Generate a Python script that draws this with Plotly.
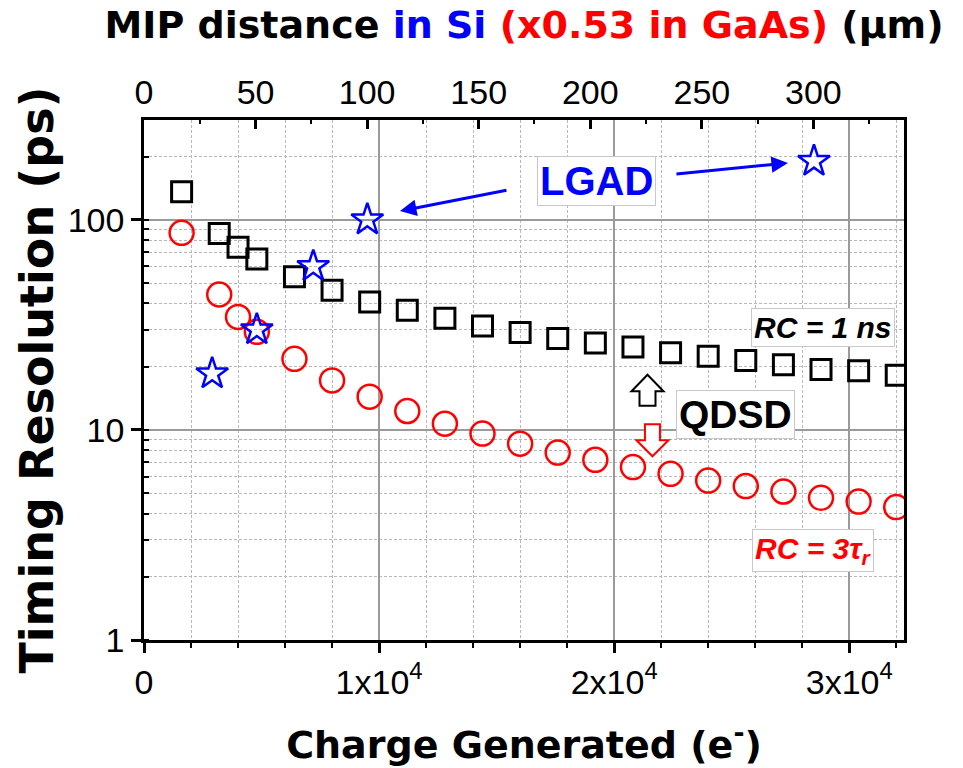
import plotly.graph_objects as go

# --- data -------------------------------------------------------------
# QDSD timing resolution vs generated charge
charge_qdsd = [1600, 3200, 4000, 4800, 6400, 8000, 9600, 11200, 12800, 14400,
               16000, 17600, 19200, 20800, 22400, 24000, 25600, 27200, 28800,
               30400, 32000]
res_rc_1ns = [136, 86, 74, 65, 53.5, 46.2, 40.6, 37.1, 34.0, 31.2,
              29.1, 27.2, 25.9, 24.8, 23.3, 22.4, 21.4, 20.4, 19.4,
              19.1, 18.2]
res_rc_3tau = [86.7, 44.1, 34.5, 29.3, 21.8, 17.2, 14.4, 12.3, 10.7, 9.6,
               8.6, 7.8, 7.2, 6.65, 6.18, 5.74, 5.40, 5.09, 4.75,
               4.56, 4.29]

# LGAD reference points
charge_lgad = [2900, 4800, 7200, 9500, 28500]
res_lgad = [18.5, 30, 60, 100, 190]

# axis ticks
x_tickvals = [0, 10000, 20000, 30000]
x_ticktext = ["0", "1x10<sup>4</sup>", "2x10<sup>4</sup>", "3x10<sup>4</sup>"]
y_tickvals = [1, 10, 100]
y_ticktext = ["1", "10", "100"]
um_tickvals = [0, 50, 100, 150, 200, 250, 300]
um_ticktext = ["0", "50", "100", "150", "200", "250", "300"]

# ranges (bottom axis in electrons, top axis in micrometres of Si)
x_range = [0, 32330]
um_range = [0, 340.6]
y_range_log = [0, 2.475]

FONT = "Liberation Sans, Arial, sans-serif"
TITLE_FONT = "DejaVu Sans, Liberation Sans, sans-serif"
BLUE = "#0000ff"
RED = "#ff0000"

fig = go.Figure()

fig.add_trace(go.Scatter(
    x=charge_qdsd, y=res_rc_1ns, mode="markers", name="RC = 1 ns",
    marker=dict(symbol="square-open", size=20, color="black",
                line=dict(width=3, color="black")),
    cliponaxis=True))
fig.add_trace(go.Scatter(
    x=charge_qdsd, y=res_rc_3tau, mode="markers", name="RC = 3 tau_r",
    marker=dict(symbol="circle-open", size=24, color=RED,
                line=dict(width=2.5, color=RED)),
    cliponaxis=True))
fig.add_trace(go.Scatter(
    x=charge_lgad, y=res_lgad, mode="markers", name="LGAD",
    marker=dict(symbol="star-open", size=24, color=BLUE,
                line=dict(width=2.5, color=BLUE)),
    cliponaxis=True))
# empty trace so the top (distance) axis gets drawn
fig.add_trace(go.Scatter(x=[], y=[], xaxis="x2", yaxis="y",
                         mode="markers", showlegend=False, hoverinfo="skip"))

major_grid = "#9a9a9a"
minor_grid = "#b8b8b8"

fig.update_layout(
    width=963, height=768,
    margin=dict(l=144, r=59, t=120, b=128),
    paper_bgcolor="white", plot_bgcolor="white",
    showlegend=False,
    font=dict(family=FONT, color="black"),
    xaxis=dict(
        range=x_range, tickvals=x_tickvals, ticktext=x_ticktext,
        automargin=False,
        ticks="outside", ticklen=10, tickwidth=2.5, tickcolor="black",
        tickfont=dict(size=34, family=FONT),
        showline=True, linewidth=2.5, linecolor="black", mirror=False,
        showgrid=True, gridcolor=major_grid, gridwidth=1.5, zeroline=False,
        minor=dict(dtick=2000, tick0=0, ticks="outside", ticklen=5,
                   tickwidth=2, tickcolor="black", showgrid=True,
                   gridcolor=minor_grid, gridwidth=1, griddash="3px,2px"),
        title=dict(text="<b>Charge Generated (e<sup>-</sup>)</b>",
                   font=dict(size=38, family=TITLE_FONT), standoff=32),
    ),
    xaxis2=dict(
        overlaying="x", side="top", anchor="y", range=um_range,
        automargin=False,
        tickvals=um_tickvals, ticktext=um_ticktext,
        ticks="inside", ticklen=9, tickwidth=2.5, tickcolor="black",
        tickfont=dict(size=34, family=FONT),
        showline=True, linewidth=2.5, linecolor="black",
        showgrid=False, zeroline=False,
        minor=dict(dtick=25, tick0=0, ticks="inside", ticklen=4,
                   tickwidth=2, tickcolor="black", showgrid=False),
        title=dict(
            text="<b>MIP distance <span style='color:#0000ff'>in Si</span> "
                 "<span style='color:#ff0000'>(x0.53 in GaAs)</span> (µm)</b>",
            font=dict(size=38, family=TITLE_FONT), standoff=23),
    ),
    yaxis=dict(
        type="log", range=y_range_log, tickvals=y_tickvals,
        ticktext=y_ticktext, automargin=False,
        ticks="outside", ticklen=10, tickwidth=2.5, tickcolor="black",
        tickfont=dict(size=34, family=FONT),
        showline=True, linewidth=2.5, linecolor="black", mirror=True,
        showgrid=True, gridcolor=major_grid, gridwidth=1.5, zeroline=False,
        minor=dict(dtick="D1", ticks="inside", ticklen=5, tickwidth=2,
                   tickcolor="black", showgrid=True, gridcolor=minor_grid,
                   gridwidth=1, griddash="3px,2px"),
        title=dict(text="<b>Timing Resolution (ps)</b>",
                   font=dict(size=46, family=TITLE_FONT), standoff=0),
    ),
)

# --- text labels ------------------------------------------------------
box = dict(bgcolor="white", bordercolor="#c8c8c8", borderwidth=1,
           borderpad=2, showarrow=False, xref="x", yref="y")
fig.add_annotation(x=19270, y=2.1845, text="<b>LGAD</b>",
                   font=dict(size=40, color=BLUE, family=FONT), **box)
fig.add_annotation(x=28884, y=1.4886, text="<b><i>RC = 1 ns</i></b>",
                   font=dict(size=30, color="black", family=FONT), **box)
fig.add_annotation(x=25183, y=1.074, text="<b>QDSD</b>",
                   font=dict(size=39, color="black", family=FONT), **box)
fig.add_annotation(x=28459, y=0.426, text="<b><i>RC = 3τ<sub>r</sub></i></b>",
                   font=dict(size=30, color=RED, family=FONT), **box)

# --- arrows from the LGAD label to the LGAD points -------------------
arrow = dict(text="", showarrow=True, arrowhead=2, arrowsize=1.1,
             arrowwidth=3, arrowcolor=BLUE, xref="x", yref="y",
             axref="x", ayref="y", standoff=0, startstandoff=0)
fig.add_annotation(x=10889, y=2.0415, ax=15483, ay=2.1416, **arrow)
fig.add_annotation(x=27393, y=2.2703, ax=22586, ay=2.2178, **arrow)

# --- hollow block arrows pointing from QDSD to the two curves ----------
fig.add_shape(type="path", xref="paper", yref="paper",
              xsizemode="pixel", ysizemode="pixel",
              xanchor=0.6625, yanchor=0.4784,
              path="M -8,-14.5 L -8,0 L -16,0 L 0,16.5 L 16,0 L 8,0 L 8,-14.5 Z",
              line=dict(color="black", width=2), fillcolor="white")
fig.add_shape(type="path", xref="paper", yref="paper",
              xsizemode="pixel", ysizemode="pixel",
              xanchor=0.669, yanchor=0.384,
              path="M -7.5,16 L -7.5,0 L -16,0 L 0,-16 L 16,0 L 7.5,0 L 7.5,16 Z",
              line=dict(color=RED, width=2), fillcolor="white")

fig.write_html("out.html")
